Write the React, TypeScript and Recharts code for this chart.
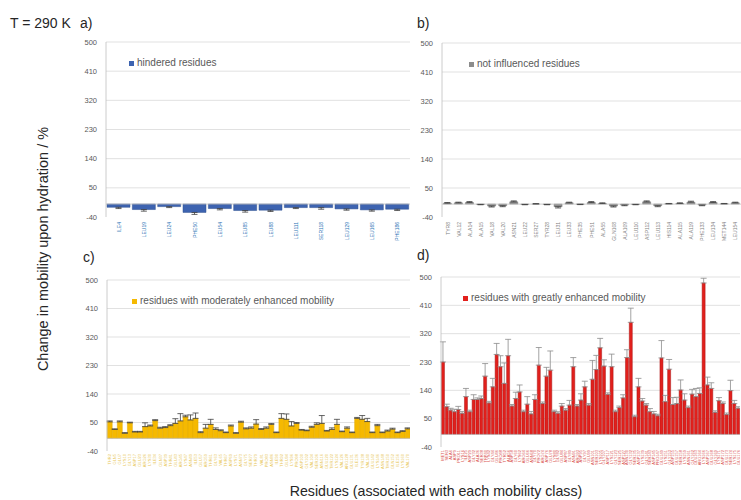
import React from 'react';
import {
  BarChart,
  Bar,
  XAxis,
  YAxis,
  CartesianGrid,
  ErrorBar,
  Legend,
  ReferenceLine,
} from 'recharts';

const FONT = '"Liberation Sans", Arial, Helvetica, sans-serif';

// Shared value axis
const Y_TICKS = [-40, 50, 140, 230, 320, 410, 500];
const GRID_VALUES = [50, 140, 230, 320, 410, 500];

// a) hindered residues
const hinderedLabels = ['ILE4', 'LEU19', 'LEU24', 'PHE50', 'LEU54', 'LEU85', 'LEU88', 'LEU111', 'SER118', 'LEU129', 'LEU165', 'PHE186'];
const hinderedValues = [-10, -17, -8, -26, -14, -20, -19, -11, -11, -15, -18, -16];
const hinderedErrors = [4, 5, 3, 6, 4, 5, 4, 3, 5, 4, 4, 4];

// b) not influenced residues
const neutralLabels = ['TYR8', 'VAL12', 'ALA14', 'ALA15', 'VAL18', 'VAL20', 'ASN21', 'LEU22', 'SER27', 'TYR28', 'LEU31', 'LEU33', 'PHE35', 'PHE51', 'ALA55', 'GLN108', 'ALA109', 'LEU110', 'ASP112', 'LEU113', 'HIS114', 'ALA115', 'ALA119', 'PHE133', 'LEU134', 'MET144', 'LEU154'];
const neutralValues = [3, 4, 5, -1, -6, -5, 7, -1, 0.5, -1, -8, 4, -0.5, 5, 2, -6, -3, -1, 7, -5, 1, 2, 6, -3, 5, 1, 4];
const neutralErrors = [2, 2, 3, 1, 3, 3, 3, 1, 1, 1, 4, 2, 1, 3, 2, 3, 2, 1, 3, 3, 1, 2, 3, 2, 3, 1, 2];

// c) moderately enhanced mobility
const moderateLabels = ['THR2', 'GLN5', 'GLU7', 'LYS10', 'GLY13', 'ASP17', 'GLU23', 'ARG26', 'LYS30', 'ILE34', 'GLN37', 'ASP39', 'THR41', 'GLU43', 'ARG45', 'LYS47', 'ASN49', 'ILE53', 'GLU57', 'ARG59', 'THR61', 'GLY63', 'VAL65', 'THR67', 'ASP69', 'LYS71', 'ASN73', 'GLY75', 'SER77', 'THR79', 'VAL81', 'PRO83', 'ASN86', 'ILE90', 'THR92', 'GLU94', 'LYS96', 'PRO98', 'ASP100', 'GLY102', 'VAL104', 'SER106', 'ASN116', 'GLU120', 'THR122', 'LYS124', 'VAL126', 'ARG128', 'GLU131', 'ILE136', 'TYR138', 'VAL140', 'GLU142', 'LYS146', 'ASN148', 'THR150', 'GLN152', 'ILE156', 'LYS160', 'VAL170'];
const moderateValues = [52, 28, 52, 16, 49, 20, 20, 37, 39, 56, 32, 34, 40, 47, 55, 68, 58, 63, 18, 32, 44, 28, 24, 18, 39, 16, 51, 30, 32, 45, 28, 32, 44, 18, 63, 60, 39, 47, 26, 24, 35, 44, 47, 23, 28, 44, 21, 32, 18, 63, 60, 53, 18, 40, 18, 23, 29, 18, 22, 30];
const moderateErrors = [3, 2, 3, 2, 2, 2, 2, 12, 3, 3, 3, 3, 3, 15, 23, 5, 16, 17, 3, 12, 16, 5, 3, 2, 3, 2, 3, 3, 4, 14, 3, 4, 3, 2, 15, 17, 14, 3, 2, 2, 3, 5, 25, 2, 5, 16, 2, 4, 2, 3, 12, 10, 2, 4, 2, 3, 3, 2, 2, 3];

// d) greatly enhanced mobility
const greatLabels = ['MET1', 'SER3', 'ALA6', 'ASP9', 'PRO11', 'LYS16', 'ILE25', 'ASP29', 'GLY32', 'ALA36', 'SER38', 'TRP40', 'LYS42', 'GLY44', 'GLU46', 'PRO48', 'TYR52', 'ALA56', 'ASP58', 'GLY60', 'LYS62', 'ARG64', 'GLU66', 'ASN68', 'GLY70', 'PRO72', 'ARG74', 'ASP76', 'GLU78', 'LYS80', 'GLY82', 'GLU84', 'ASP87', 'GLY89', 'ASN91', 'ARG93', 'ASP95', 'GLY97', 'GLU99', 'ASN101', 'SER103', 'LYS105', 'GLY107', 'ASP117', 'LYS121', 'GLY123', 'SER125', 'ASP127', 'ASN130', 'GLY132', 'SER135', 'ASP137', 'LYS139', 'GLY141', 'SER143', 'ASP145', 'PRO147', 'GLU149', 'LYS151', 'GLY153', 'ASP155', 'GLU157', 'SER158', 'LYS159', 'ASN161', 'GLY162', 'GLU163', 'ARG164', 'LYS166', 'ASP167', 'GLU168', 'GLY169', 'LYS171', 'ASP172', 'GLU173', 'SER174', 'LYS175', 'GLU176'];
const greatValues = [230, 88, 77, 72, 79, 67, 120, 72, 111, 111, 114, 185, 100, 151, 254, 215, 162, 250, 90, 114, 135, 72, 96, 65, 111, 220, 98, 185, 204, 72, 67, 90, 77, 93, 215, 90, 109, 151, 93, 175, 206, 275, 217, 127, 215, 72, 85, 116, 244, 356, 56, 151, 106, 93, 72, 65, 59, 243, 104, 207, 95, 98, 141, 109, 85, 128, 120, 130, 481, 157, 146, 70, 107, 98, 63, 139, 98, 83];
const greatErrors = [64, 8, 6, 8, 10, 6, 26, 5, 15, 5, 8, 40, 5, 27, 35, 35, 65, 52, 5, 20, 22, 5, 24, 8, 15, 56, 5, 28, 61, 5, 5, 8, 5, 15, 29, 5, 20, 18, 5, 60, 45, 30, 20, 5, 40, 5, 5, 10, 25, 45, 5, 27, 8, 5, 10, 8, 5, 55, 20, 31, 22, 20, 32, 20, 5, 15, 26, 18, 15, 25, 18, 5, 10, 5, 5, 33, 10, 5];

type Row = { name: string; value: number; err: [number, number] };

// Error bars point away from zero: down for negative bars, up for positive ones.
function buildRows(labels: string[], values: number[], errors: number[]): Row[] {
  return labels.map((name, i) => {
    const v = values[i];
    const e = errors[i];
    return { name, value: v, err: v < 0 ? [e, 0] : [0, e] };
  });
}

const makeTick = (color: string, size: number) => (props: any) => {
  const { x, y, payload } = props;
  return (
    <text
      x={x}
      y={y}
      transform={`rotate(-90 ${x} ${y})`}
      textAnchor="end"
      dominantBaseline="central"
      fontSize={size}
      fill={color}
      fontFamily={FONT}
    >
      {payload.value}
    </text>
  );
};

const LegendBox = ({ color, text }: { color?: string; text?: string }) => (
  <div
    style={{
      display: 'flex',
      alignItems: 'center',
      fontSize: 10,
      lineHeight: '12px',
      color: '#595959',
      fontFamily: FONT,
      whiteSpace: 'nowrap',
    }}
  >
    <span style={{ display: 'inline-block', width: 5, height: 5, background: color, marginRight: 3 }} />
    {text}
  </div>
);

type PanelProps = {
  x: number;
  y: number;
  width: number;
  height: number;
  marginTop: number;
  xAxisHeight: number;
  tickGap: number;
  rows: Row[];
  seriesName: string;
  fill: string;
  stroke: string;
  errColor: string;
  errCap: number;
  labelColor: string;
  labelSize: number;
  gap: string | number;
  legendLeft: number;
  legendTop: number;
};

function Panel(p: PanelProps) {
  return (
    <div style={{ position: 'absolute', left: p.x, top: p.y }}>
      <BarChart
        width={p.width}
        height={p.height}
        data={p.rows}
        margin={{ top: p.marginTop, right: 0, left: 0, bottom: 0 }}
        barCategoryGap={p.gap}
      >
        <CartesianGrid vertical={false} stroke="#d9d9d9" strokeWidth={0.8} horizontalValues={GRID_VALUES} />
        <XAxis
          dataKey="name"
          interval={0}
          height={p.xAxisHeight}
          axisLine={false}
          tickLine={false}
          tickSize={0}
          tickMargin={p.tickGap}
          tick={makeTick(p.labelColor, p.labelSize)}
        />
        <YAxis
          type="number"
          width={46}
          domain={[-40, 500]}
          ticks={Y_TICKS}
          allowDataOverflow
          axisLine={{ stroke: '#bfbfbf', strokeWidth: 0.8 }}
          tickLine={false}
          tickSize={0}
          tickMargin={9}
          tick={{ fontSize: 7.5, fill: '#595959', fontFamily: FONT }}
        />
        <ReferenceLine y={0} stroke="#bfbfbf" strokeWidth={0.8} />
        <Legend
          layout="horizontal"
          align="center"
          verticalAlign="middle"
          wrapperStyle={{ left: p.legendLeft, top: p.legendTop, width: 'auto', height: 'auto' }}
          content={(lp: any) => (
            <LegendBox color={lp.payload?.[0]?.color} text={lp.payload?.[0]?.value} />
          )}
        />
        <Bar
          dataKey="value"
          name={p.seriesName}
          fill={p.fill}
          stroke={p.stroke}
          strokeWidth={0.5}
          isAnimationActive={false}
        >
          <ErrorBar dataKey="err" width={p.errCap} stroke={p.errColor} strokeWidth={0.8} />
        </Bar>
      </BarChart>
    </div>
  );
}

export default function App() {
  return (
    <div
      style={{
        position: 'fixed',
        left: 0,
        top: 0,
        width: 741,
        height: 500,
        overflow: 'hidden',
        background: '#ffffff',
        fontFamily: FONT,
      }}
    >
      <Panel
        x={60}
        y={30}
        width={350}
        height={220}
        marginTop={12}
        xAxisHeight={33}
        tickGap={5}
        rows={buildRows(hinderedLabels, hinderedValues, hinderedErrors)}
        seriesName="hindered residues"
        fill="#3d63b0"
        stroke="#2f5090"
        errColor="#404040"
        errCap={3}
        labelColor="#2e75b6"
        labelSize={5}
        gap="4%"
        legendLeft={69}
        legendTop={27}
      />
      <Panel
        x={396}
        y={30}
        width={345}
        height={220}
        marginTop={13}
        xAxisHeight={33}
        tickGap={5}
        rows={buildRows(neutralLabels, neutralValues, neutralErrors)}
        seriesName="not influenced residues"
        fill="#8c8c8c"
        stroke="#707070"
        errColor="#404040"
        errCap={3}
        labelColor="#7f7f7f"
        labelSize={5}
        gap="12%"
        legendLeft={73}
        legendTop={28}
      />
      <Panel
        x={61}
        y={268}
        width={349}
        height={208}
        marginTop={12}
        xAxisHeight={25}
        tickGap={3}
        rows={buildRows(moderateLabels, moderateValues, moderateErrors)}
        seriesName="residues with moderately enhanced mobility"
        fill="#f5b901"
        stroke="#e0a800"
        errColor="#404040"
        errCap={3}
        labelColor="#e8c75a"
        labelSize={4}
        gap="4%"
        legendLeft={71}
        legendTop={27}
      />
      <Panel
        x={395}
        y={265}
        width={345}
        height={210}
        marginTop={12}
        xAxisHeight={28}
        tickGap={3}
        rows={buildRows(greatLabels, greatValues, greatErrors)}
        seriesName="residues with greatly enhanced mobility"
        fill="#e2201c"
        stroke="#a81414"
        errColor="#8c8c8c"
        errCap={3}
        labelColor="#d9534f"
        labelSize={4}
        gap="12%"
        legendLeft={68}
        legendTop={27}
      />

      <svg
        width={741}
        height={500}
        style={{ position: 'absolute', left: 0, top: 0, pointerEvents: 'none' }}
        fontFamily={FONT}
      >
        <text x={10} y={28} fontSize={14} fill="#262626">T = 290 K</text>
        <text x={80} y={28} fontSize={14} fill="#262626">a)</text>
        <text x={417} y={28} fontSize={14} fill="#262626">b)</text>
        <text x={83} y={262} fontSize={14} fill="#262626">c)</text>
        <text x={417} y={260} fontSize={14} fill="#262626">d)</text>
        <text
          x={48}
          y={249}
          fontSize={14.5}
          fill="#262626"
          textAnchor="middle"
          transform="rotate(-90 48 249)"
        >
          Change in mobility upon hydration / %
        </text>
        <text x={436} y={496} fontSize={14.2} fill="#262626" textAnchor="middle">
          Residues (associated with each mobility class)
        </text>
      </svg>
    </div>
  );
}
